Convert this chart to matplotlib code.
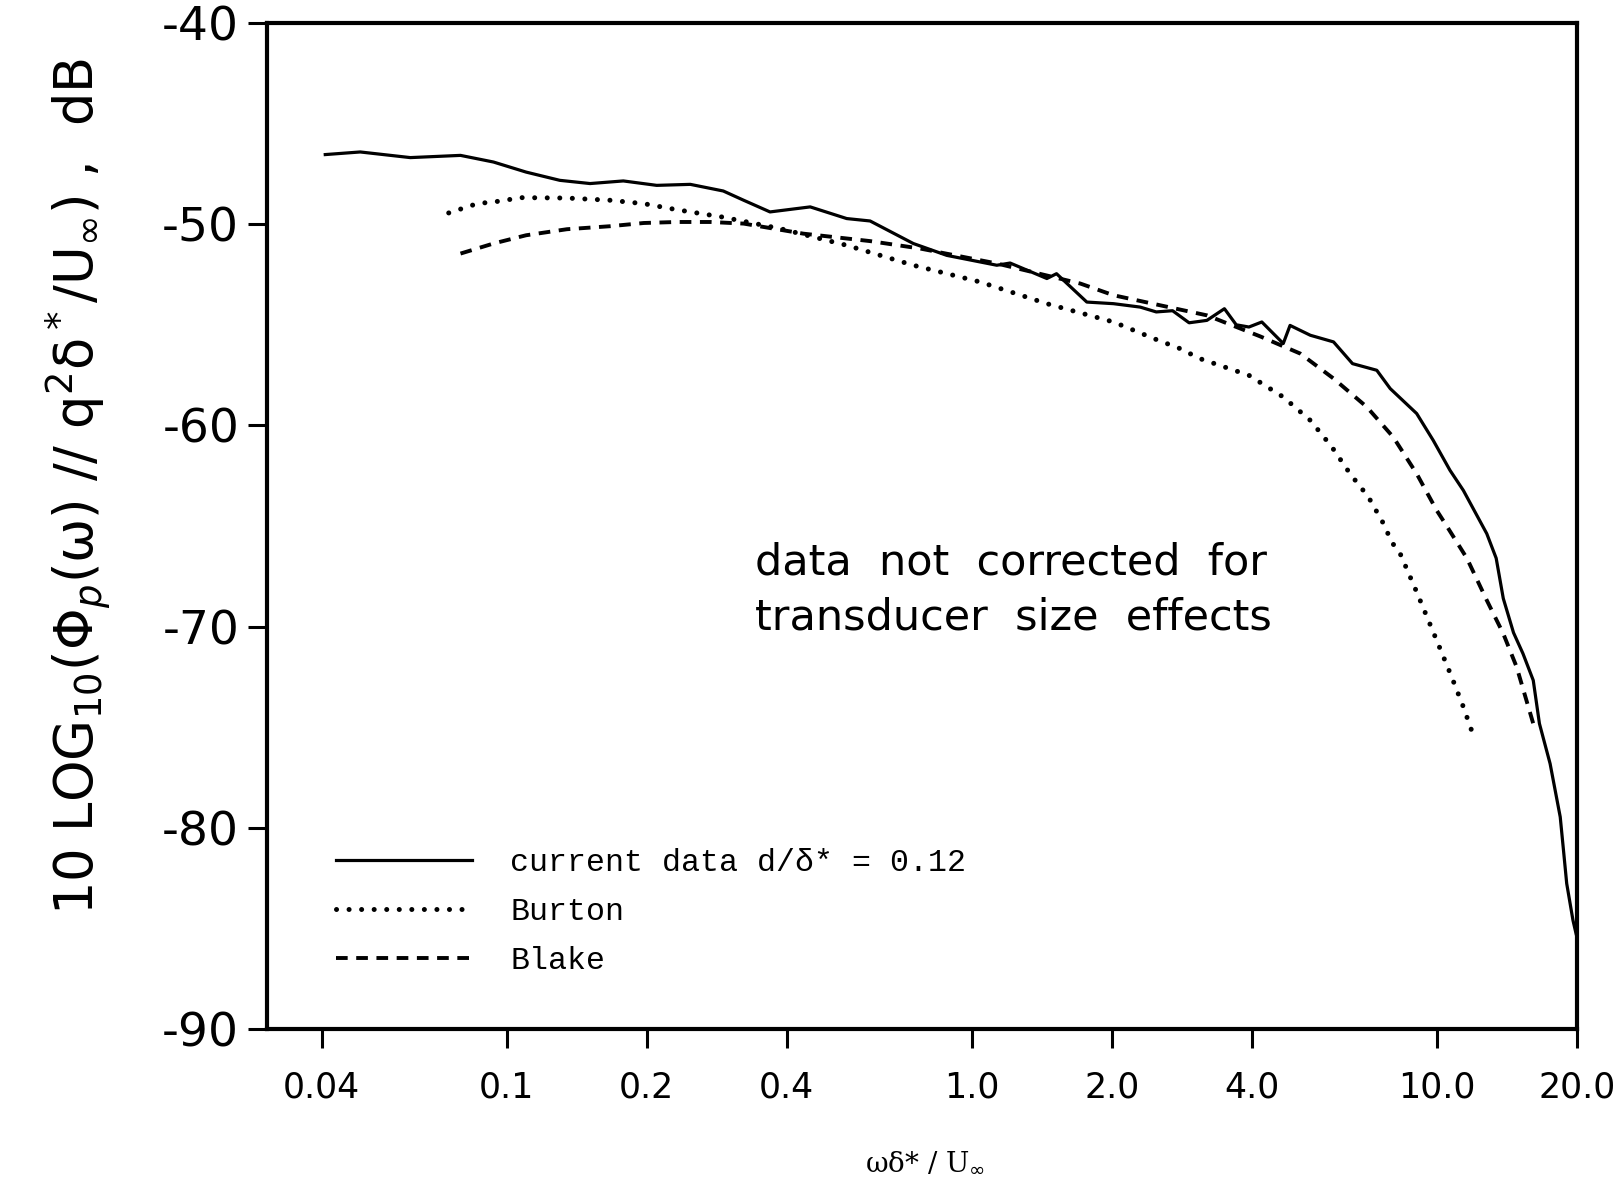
import matplotlib
matplotlib.use("Agg")
import matplotlib.pyplot as plt

# Espectro de presión de pared
current_x = [0.0407, 0.0484, 0.062, 0.0795, 0.0936, 0.110, 0.130, 0.151, 0.178, 0.210,
             0.248, 0.292, 0.323, 0.368, 0.449, 0.538, 0.604, 0.748, 0.883, 1.131,
             1.208, 1.449, 1.52, 1.766, 2.015, 2.30, 2.49, 2.70, 2.93, 3.2,
             3.49, 3.70, 3.94, 4.2, 4.67, 4.83, 5.34, 5.99, 6.58, 7.42,
             7.93, 9.04, 9.81, 10.66, 11.39, 12.79, 13.40, 13.88, 14.6, 15.3, 16.1,
             16.6, 17.5, 18.4, 18.7, 19.0, 19.6, 19.9]
current_y = [-46.54, -46.41, -46.69, -46.58, -46.91, -47.41, -47.82, -47.98, -47.85, -48.07,
             -48.02, -48.35, -48.81, -49.39, -49.14, -49.72, -49.84, -50.96, -51.55, -52.04,
             -51.93, -52.70, -52.46, -53.87, -53.95, -54.12, -54.36, -54.30, -54.90, -54.78,
             -54.20, -55.00, -55.11, -54.86, -55.93, -55.03, -55.52, -55.85, -56.93, -57.26,
             -58.17, -59.41, -60.74, -62.23, -63.23, -65.38, -66.60, -68.60, -70.30, -71.34, -72.67,
             -74.82, -76.81, -79.46, -81.12, -82.77, -84.60, -85.26]

burton_x = [0.075, 0.0863, 0.0969, 0.107, 0.1346, 0.1668, 0.197, 0.232, 0.290, 0.387,
            0.538, 0.748, 1.041, 1.449, 2.015, 2.49, 2.80, 3.09, 3.94, 4.67,
            5.34, 5.94, 6.50, 7.12, 7.67, 7.99, 8.33, 9.04, 9.98, 10.75,
            11.39, 11.93]
burton_y = [-49.44, -48.98, -48.85, -48.68, -48.70, -48.81, -48.98, -49.28, -49.64, -50.22,
            -51.05, -52.04, -52.87, -53.95, -54.86, -55.73, -56.18, -56.68, -57.51, -58.59,
            -59.75, -61.07, -62.40, -63.56, -64.88, -65.80, -66.37, -68.28, -70.68, -72.50,
            -73.99, -75.32]

blake_x = [0.0795, 0.0936, 0.110, 0.1346, 0.1668, 0.197, 0.232, 0.274, 0.323, 0.434,
           0.604, 0.774, 1.13, 1.71, 2.015, 3.2, 4.16, 5.08, 5.99, 7.06,
           8.05, 9.04, 9.98, 10.49, 11.59, 12.79, 13.88, 14.83, 16.1]
blake_y = [-51.46, -50.96, -50.55, -50.25, -50.10, -49.94, -49.89, -49.89, -49.97, -50.47,
           -50.84, -51.21, -51.95, -52.95, -53.53, -54.53, -55.57, -56.43, -57.67, -59.08,
           -60.58, -62.40, -64.22, -65.00, -66.60, -68.69, -70.35, -72.01, -74.82]

x_ticks = [0.04, 0.1, 0.2, 0.4, 1.0, 2.0, 4.0, 10.0, 20.0]
x_tick_labels = ["0.04", "0.1", "0.2", "0.4", "1.0", "2.0", "4.0", "10.0", "20.0"]
y_ticks = [-40, -50, -60, -70, -80, -90]
y_tick_labels = ["-40", "-50", "-60", "-70", "-80", "-90"]

fig = plt.figure(figsize=(16.21, 11.79), dpi=100)
ax = fig.add_axes([0.1647, 0.1272, 0.8082, 0.8533])

ax.plot(current_x, current_y, color="black", linewidth=2.3,
        label="current data d/\u03b4* = 0.12")
ax.plot(burton_x, burton_y, color="black", linewidth=3.6,
        linestyle=(0, (0.01, 2.5)), dash_capstyle="round", label="Burton")
ax.plot(blake_x, blake_y, color="black", linewidth=2.8,
        linestyle=(0, (3.0, 2.2)), label="Blake")

ax.set_xscale("log")
ax.set_xlim(0.0305, 20.0)
ax.set_ylim(-90, -40)

ax.set_xticks(x_ticks)
ax.set_xticklabels(x_tick_labels, fontsize=25)
ax.minorticks_off()
ax.set_yticks(y_ticks)
ax.set_yticklabels(y_tick_labels, fontsize=34)

ax.tick_params(axis="x", direction="out", length=14, width=2.2, pad=16)
ax.tick_params(axis="y", direction="out", length=14, width=2.2, pad=6)
for side in ["left", "right", "top", "bottom"]:
    ax.spines[side].set_linewidth(3.0)

# Nota dentro del gráfico
ax.text(0.3725, 0.485, "data  not  corrected  for\ntransducer  size  effects",
        transform=ax.transAxes, fontsize=31, va="top", ha="left", linespacing=1.4)

# Leyenda sin marco
ax.legend(loc="lower left", bbox_to_anchor=(0.0527, 0.053), frameon=False,
          prop={"family": "Liberation Mono", "size": 22.8},
          handlelength=4.3, handletextpad=1.2, labelspacing=0.6,
          borderpad=0, borderaxespad=0)

fig.text(78 / 1621, 1 - 486 / 1179,
         "10 LOG$_{10}$(\u03a6$_p$(\u03c9) // q$^2$\u03b4$^*$/U$_\u221e$) ,  dB",
         rotation=90, fontsize=38, ha="center", va="center")
fig.text(925 / 1621, 1 - 1163 / 1179, "\u03c9\u03b4* / U$_\u221e$",
         fontsize=20, family="DejaVu Serif", ha="center", va="center")

fig.savefig("out.png", dpi=100)
